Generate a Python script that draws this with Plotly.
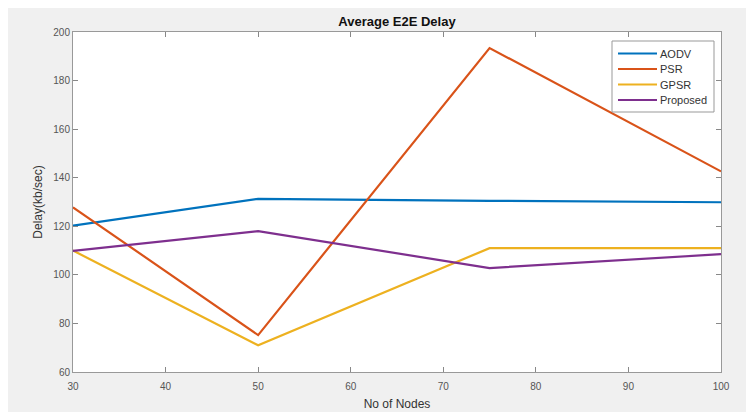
import plotly.graph_objects as go

nodes = [30, 50, 75, 100]
aodv = [120.3, 131.3, 130.5, 129.9]
psr = [127.8, 75.2, 193.4, 142.6]
gpsr = [110.0, 71.0, 111.0, 111.0]
proposed = [109.9, 118.0, 102.8, 108.5]

series_names = ["AODV", "PSR", "GPSR", "Proposed"]
series_values = [aodv, psr, gpsr, proposed]
series_colors = ["#0072BD", "#D95319", "#EDB120", "#7E2F8E"]

x_ticks = [30, 40, 50, 60, 70, 80, 90, 100]
y_ticks = [60, 80, 100, 120, 140, 160, 180, 200]

# Page offset (default body margin) and figure geometry
W, H = 746, 404
ML, MR, MT, MB = 65, 33, 24, 40
OFF = 8
PX0, PX1 = OFF + ML, OFF + W - MR
PY0, PY1 = OFF + MT, OFF + H - MB


def px_x(X):
    return (X - PX0) / (PX1 - PX0)


def px_y(Y):
    return (PY1 - Y) / (PY1 - PY0)


fig = go.Figure()
for name, vals, color in zip(series_names, series_values, series_colors):
    fig.add_trace(go.Scatter(x=nodes, y=vals, mode="lines", name=name,
                             line=dict(color=color, width=2.2),
                             showlegend=False))

axis_common = dict(
    showgrid=False, zeroline=False, ticks="inside", ticklen=5,
    tickcolor="#888", linecolor="#999", linewidth=1, showline=True,
    mirror="ticks", tickfont=dict(size=10, color="#555"), automargin=False,
)

# Legend box drawn in MATLAB style
shapes = [dict(type="rect", xref="paper", yref="paper",
               x0=px_x(612), x1=px_x(714), y0=px_y(112), y1=px_y(41),
               line=dict(color="#999", width=1), fillcolor="white", layer="above")]
annotations = []
entry_y = [53.5, 69, 84.5, 100]
for name, color, ey in zip(series_names, series_colors, entry_y):
    shapes.append(dict(type="line", xref="paper", yref="paper",
                       x0=px_x(618), x1=px_x(657), y0=px_y(ey), y1=px_y(ey),
                       line=dict(color=color, width=2.2), layer="above"))
    annotations.append(dict(text=name, xref="paper", yref="paper",
                            x=px_x(658), y=px_y(ey), xanchor="left", yanchor="middle",
                            showarrow=False, font=dict(size=11, color="#333")))

fig.update_layout(
    width=W, height=H,
    margin=dict(l=ML, r=MR, t=MT, b=MB),
    paper_bgcolor="#f0f0f0", plot_bgcolor="white",
    font=dict(family="Liberation Sans, Arial, sans-serif", size=11, color="#333"),
    title=dict(text="<b>Average E2E Delay</b>", x=0.5, xref="paper",
               y=1 - 13 / H, yref="container", xanchor="center", yanchor="middle",
               font=dict(size=13, color="#111")),
    xaxis=dict(range=[30, 100], tickvals=x_ticks, ticklabelstandoff=5,
               title=dict(text="No of Nodes", standoff=8, font=dict(size=12, color="#333")),
               **axis_common),
    yaxis=dict(range=[60, 200], tickvals=y_ticks,
               title=dict(text="Delay(kb/sec)", standoff=8, font=dict(size=12, color="#333")),
               **axis_common),
    shapes=shapes,
    annotations=annotations,
    showlegend=False,
)

fig.write_html("out.html")
